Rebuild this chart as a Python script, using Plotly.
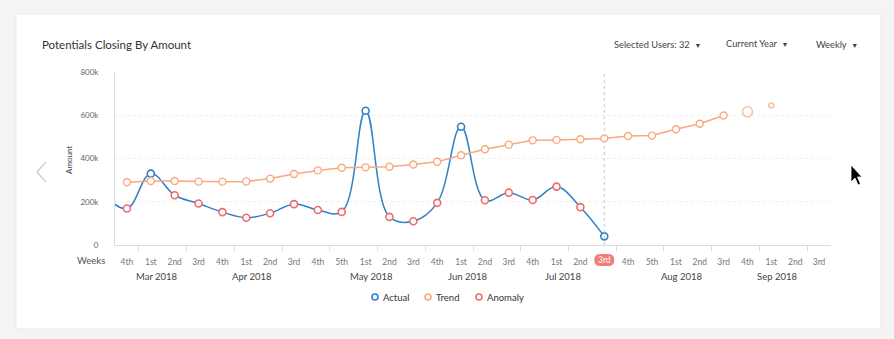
import plotly.graph_objects as go

# ---------------- data ----------------
week_labels = ["4th", "1st", "2nd", "3rd", "4th", "1st", "2nd", "3rd", "4th", "5th",
               "1st", "2nd", "3rd", "4th", "1st", "2nd", "3rd", "4th", "1st", "2nd",
               "3rd", "4th", "5th", "1st", "2nd", "3rd", "4th", "1st", "2nd", "3rd"]
month_labels = ["Mar 2018", "Apr 2018", "May 2018", "Jun 2018", "Jul 2018", "Aug 2018", "Sep 2018"]
month_start_week = [1, 5, 10, 14, 18, 23, 27]
current_week = 20

# Actual amounts (first value = previous week, just off the left edge)
actual_weeks = list(range(-1, 21))
actual_values = [235000, 169000, 330000, 230000, 192000, 152000, 126000, 147000, 189000,
                 162000, 153000, 621000, 130000, 110000, 195000, 547000, 207000, 242000,
                 208000, 270000, 175000, 40000]
anomaly_flags = [False, True, False, True, True, True, True, True, True, True, True,
                 False, True, True, True, False, True, True, True, True, True, False]

trend_weeks = list(range(0, 26))
trend_values = [290000, 296000, 296000, 293000, 293000, 294000, 307000, 328000, 345000,
                357000, 359000, 362000, 372000, 385000, 415000, 443000, 464000, 484000,
                486000, 489000, 493000, 504000, 506000, 535000, 561000, 599000]
trend_extra_weeks = [26, 27]
trend_extra_values = [616000, 645000]

y_tick_vals = [0, 200000, 400000, 600000, 800000]
y_tick_text = ["0", "200k", "400k", "600k", "800k"]

legend_names = ["Actual", "Trend", "Anomaly"]

# ---------------- styling ----------------
BLUE = "#2f80c9"
ORANGE = "#fba77d"
RED = "#f26b6b"
FONT = "Lato"

W, H = 894, 339
L, R, T, B = 115, 831, 72, 245


def px(x):
    return (x - L) / (R - L)


def py(y):
    return (B - y) / (B - T)


fig = go.Figure()

# Actual line
fig.add_trace(go.Scatter(x=actual_weeks, y=actual_values, mode="lines",
                         line=dict(color=BLUE, width=1.5, shape="spline", smoothing=1.1),
                         showlegend=False, hoverinfo="skip"))
# Trend line
fig.add_trace(go.Scatter(x=trend_weeks, y=trend_values, mode="lines",
                         line=dict(color=ORANGE, width=1.5),
                         showlegend=False, hoverinfo="skip"))

normal_x = [w for w, a in zip(actual_weeks, anomaly_flags) if not a and w >= 0]
normal_y = [v for w, v, a in zip(actual_weeks, actual_values, anomaly_flags) if not a and w >= 0]
anom_x = [w for w, a in zip(actual_weeks, anomaly_flags) if a]
anom_y = [v for v, a in zip(actual_values, anomaly_flags) if a]

fig.add_trace(go.Scatter(x=normal_x, y=normal_y, mode="markers", name="Actual",
                         marker=dict(symbol="circle", size=7, color="white",
                                     line=dict(color=BLUE, width=1.6))))
fig.add_trace(go.Scatter(x=trend_weeks, y=trend_values, mode="markers", name="Trend",
                         marker=dict(symbol="circle", size=7, color="white",
                                     line=dict(color=ORANGE, width=1.4))))
fig.add_trace(go.Scatter(x=trend_extra_weeks, y=trend_extra_values, mode="markers",
                         name="Trend (projected)",
                         marker=dict(symbol="circle", size=[10, 5], color="white",
                                     line=dict(color=ORANGE, width=1.6))))
fig.add_trace(go.Scatter(x=anom_x, y=anom_y, mode="markers", name="Anomaly",
                         marker=dict(symbol="circle", size=7, color="white",
                                     line=dict(color=RED, width=1.6))))

tick_text = [("" if i == current_week else t) for i, t in enumerate(week_labels)]

shapes = [
    # card
    dict(type="rect", xref="paper", yref="paper", x0=px(16), x1=px(881), y0=py(329), y1=py(14),
         fillcolor="white", line=dict(color="#e9e9e9", width=1), layer="below"),
    # current week line
    dict(type="line", xref="x", yref="paper", x0=current_week, x1=current_week, y0=0, y1=1,
         line=dict(color="#c8c8c8", width=1, dash="dot")),
    # highlighted week pill
    dict(type="path", xref="x", yref="paper", xsizemode="pixel", ysizemode="pixel",
         xanchor=current_week, yanchor=0,
         path="M -4,-9 L 4,-9 Q 10,-9 10,-15 Q 10,-21 4,-21 L -4,-21 Q -10,-21 -10,-15 Q -10,-9 -4,-9 Z",
         fillcolor="#f47b74", line=dict(width=0)),
    # left chevron
    dict(type="path", xref="paper", yref="paper",
         path=f"M {px(46)},{py(162)} L {px(37)},{py(172)} L {px(46)},{py(182)}",
         line=dict(color="#cfcfcf", width=1.5)),
    # mouse cursor
    dict(type="path", xref="paper", yref="paper",
         path=(f"M {px(851)},{py(165)} L {px(851)},{py(182)} L {px(855)},{py(178)} "
               f"L {px(858)},{py(185)} L {px(860.5)},{py(184)} L {px(857.5)},{py(177)} "
               f"L {px(862)},{py(177)} Z"),
         fillcolor="black", line=dict(color="white", width=0.8)),
]

caret = "<span style='font-size:7px'>\u25bc</span>"
annotations = [
    dict(text="Potentials Closing By Amount", x=px(40), y=py(44), xref="paper", yref="paper",
         xanchor="left", yanchor="middle", showarrow=False,
         font=dict(family=FONT, size=11.5, color="#333333")),
    dict(text="Selected Users: 32  " + caret, x=px(612), y=py(44), xref="paper", yref="paper",
         xanchor="left", yanchor="middle", showarrow=False,
         font=dict(family=FONT, size=9.3, color="#444444")),
    dict(text="Current Year  " + caret, x=px(724), y=py(43), xref="paper", yref="paper",
         xanchor="left", yanchor="middle", showarrow=False,
         font=dict(family=FONT, size=9.3, color="#444444")),
    dict(text="Weekly  " + caret, x=px(814), y=py(44), xref="paper", yref="paper",
         xanchor="left", yanchor="middle", showarrow=False,
         font=dict(family=FONT, size=9.3, color="#444444")),
    dict(text="Amount", x=px(69), y=py(160), xref="paper", yref="paper", textangle=-90,
         xanchor="center", yanchor="middle", showarrow=False,
         font=dict(family=FONT, size=8, color="#444444")),
    dict(text="Weeks", x=px(91), y=py(260), xref="paper", yref="paper",
         xanchor="center", yanchor="middle", showarrow=False,
         font=dict(family=FONT, size=9.5, color="#555555")),
    dict(text=week_labels[current_week], x=current_week, y=py(260), xref="x", yref="paper",
         xanchor="center", yanchor="middle", showarrow=False,
         font=dict(family=FONT, size=8.5, color="white")),
]
for lab, w in zip(month_labels, month_start_week):
    annotations.append(dict(text=lab, x=w + 0.25, y=py(276), xref="x", yref="paper",
                            xanchor="center", yanchor="middle", showarrow=False,
                            font=dict(family=FONT, size=9.5, color="#444444")))

# custom legend (symbol + text, tightly spaced as in the original)
legend_colors = [BLUE, ORANGE, RED]
legend_sym_x = [375, 428, 479]
for name, col, sx in zip(legend_names, legend_colors, legend_sym_x):
    shapes.append(dict(type="circle", xref="paper", yref="paper",
                       x0=px(sx - 3), x1=px(sx + 3), y0=py(300), y1=py(294),
                       fillcolor="white", line=dict(color=col, width=1.6)))
    annotations.append(dict(text=name, x=px(sx + 6), y=py(297), xref="paper", yref="paper",
                            xanchor="left", yanchor="middle", showarrow=False,
                            font=dict(family=FONT, size=9.5, color="#333333")))

fig.update_layout(
    width=W, height=H,
    margin=dict(l=L, r=W - R, t=T, b=H - B, pad=0),
    paper_bgcolor="#f4f4f4",
    plot_bgcolor="rgba(0,0,0,0)",
    font=dict(family=FONT, color="#555555"),
    shapes=shapes,
    annotations=annotations,
    showlegend=False,
    xaxis=dict(range=[-0.5, 29.5], tickmode="array", tickvals=list(range(len(week_labels))),
               ticktext=tick_text, ticks="", showgrid=False, zeroline=False,
               showline=True, linecolor="#dcdcdc", linewidth=1,
               tickfont=dict(family=FONT, size=8.5, color="#777777"),
               ticklabelstandoff=9,
               minor=dict(tickvals=[i + 0.5 for i in range(0, 29, 2)], ticks="outside",
                          ticklen=5, tickcolor="#dcdcdc", tickwidth=1, showgrid=False),
               fixedrange=True),
    yaxis=dict(range=[0, 800000], tickmode="array", tickvals=y_tick_vals, ticktext=y_tick_text,
               ticks="", showgrid=True, gridcolor="#efefef", griddash="dot", gridwidth=1,
               zeroline=False, showline=True, linecolor="#dcdcdc", linewidth=1,
               tickfont=dict(family=FONT, size=8, color="#666666"),
               ticklabelstandoff=14, fixedrange=True),
)

fig.write_html("out.html", config={"displayModeBar": False})
